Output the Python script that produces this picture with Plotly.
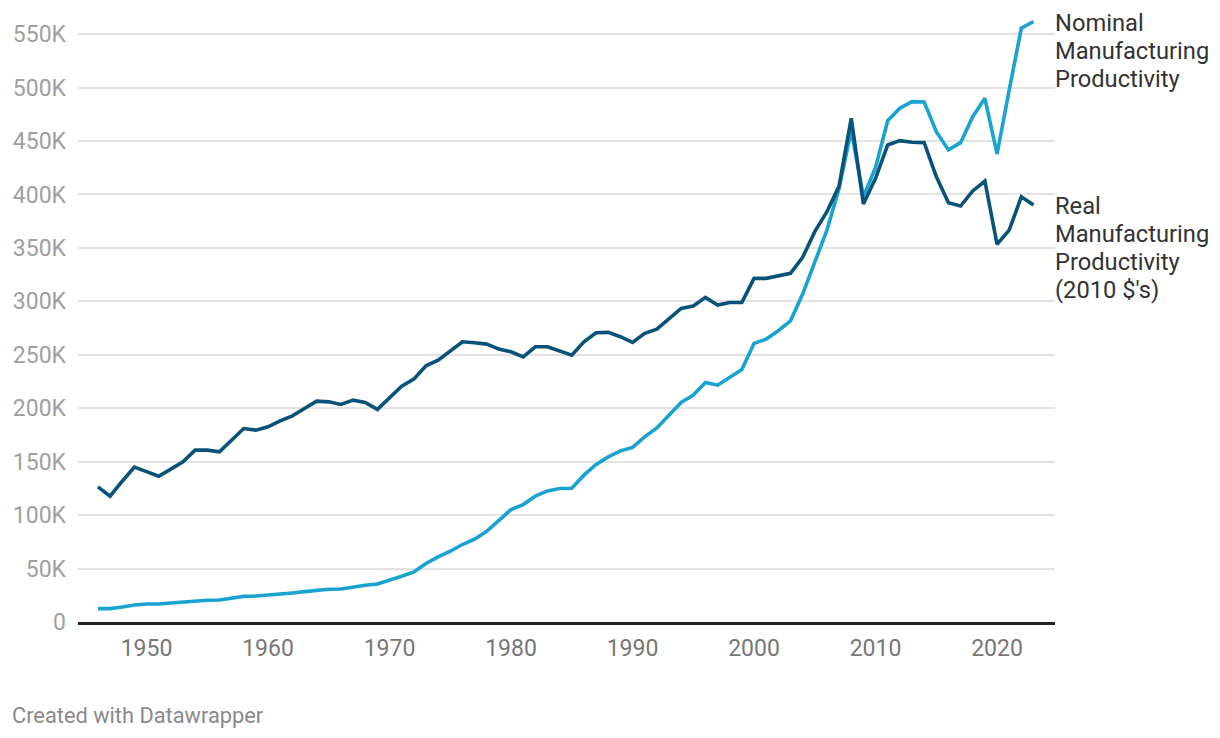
import plotly.graph_objects as go

years = list(range(1946, 2024))

real_productivity = [
    126.4, 117.7, 131.7, 145.0, 140.7, 136.4, 143.0, 149.8, 160.8, 160.8,
    159.2, 170.0, 181.0, 179.5, 182.6, 188.2, 192.9, 199.8, 206.6, 206.0,
    203.5, 207.6, 205.4, 198.9, 210.4, 220.7, 227.2, 239.7, 245.0, 253.7,
    262.2, 261.2, 260.0, 255.3, 252.8, 248.1, 257.5, 257.5, 253.5, 249.7,
    262.2, 270.6, 271.0, 266.9, 261.6, 270.0, 274.0, 284.0, 293.4, 295.6,
    303.7, 296.5, 299.0, 299.0, 321.5, 321.5, 324.0, 326.2, 341.2, 365.2,
    383.9, 408.0, 471.3, 391.1, 415.1, 446.3, 450.4, 448.8, 448.5, 416.7,
    392.3, 389.2, 403.3, 412.6, 353.4, 366.7, 397.9, 390.2,
]
real_productivity = [v * 1000 for v in real_productivity]

nominal_productivity = [
    12.5, 12.5, 14.0, 15.9, 16.9, 16.9, 17.8, 18.7, 20.0, 20.3,
    20.6, 22.5, 24.0, 24.3, 25.0, 26.2, 27.2, 28.4, 29.7, 30.6,
    30.9, 32.8, 34.4, 35.6, 39.0, 42.8, 46.8, 54.7, 60.9, 66.2,
    72.5, 77.4, 84.9, 95.2, 105.2, 109.9, 117.7, 122.7, 124.9, 125.2,
    137.4, 147.4, 154.5, 160.1, 163.3, 173.2, 181.6, 193.5, 205.4, 212.3,
    224.1, 221.6, 228.8, 236.3, 260.7, 264.7, 272.5, 281.8, 306.8, 337.1,
    366.7, 405.8, 460.0, 398.0, 425.4, 469.0, 480.7, 486.9, 486.6, 458.8,
    441.7, 448.5, 472.8, 490.0, 437.9, 497.7, 555.6, 561.8,
]
nominal_productivity = [v * 1000 for v in nominal_productivity]

x_ticks = [1950, 1960, 1970, 1980, 1990, 2000, 2010, 2020]
y_ticks = [0, 50000, 100000, 150000, 200000, 250000, 300000, 350000,
           400000, 450000, 500000, 550000]
y_tick_labels = ["0", "50K", "100K", "150K", "200K", "250K", "300K", "350K",
                 "400K", "450K", "500K", "550K"]

nominal_label = ["Nominal", "Manufacturing", "Productivity"]
real_label = ["Real", "Manufacturing", "Productivity", "(2010 $'s)"]

NOMINAL_COLOR = "#1aa2d0"
REAL_COLOR = "#0a5378"
LABEL_SIZE = 23.7
LINE_GAP = 28

fig = go.Figure()
fig.add_trace(go.Scatter(x=years, y=nominal_productivity, mode="lines",
                         line=dict(color=NOMINAL_COLOR, width=3.6),
                         hoverinfo="skip", showlegend=False))
fig.add_trace(go.Scatter(x=years, y=real_productivity, mode="lines",
                         line=dict(color=REAL_COLOR, width=3.6),
                         hoverinfo="skip", showlegend=False))

for lines, vals in [(nominal_label, nominal_productivity), (real_label, real_productivity)]:
    for i, line_text in enumerate(lines):
        fig.add_annotation(x=1, xref="paper", y=vals[-1], yref="y",
                           text=line_text, showarrow=False, xanchor="left",
                           yanchor="middle", align="left", xshift=-2,
                           yshift=-LINE_GAP * i - 1,
                           font=dict(family="Roboto", size=LABEL_SIZE, color="#333333"))

fig.add_annotation(x=0, xref="paper", y=0, yref="paper", xanchor="left", yanchor="middle",
                   text="Created with Datawrapper", showarrow=False,
                   xshift=-68, yshift=-93,
                   font=dict(family="Roboto", size=21.8, color="#8a8a8a"))

# page body has an 8px margin, so the figure is 8px smaller and shifted
fig.update_layout(
    width=1212, height=730,
    margin=dict(l=70, r=165, t=2, b=116, pad=0),
    paper_bgcolor="white", plot_bgcolor="white",
    font=dict(family="Roboto"),
    xaxis=dict(range=[1944.36, 2024.77], tickvals=x_ticks, showgrid=False,
               showline=True, linecolor="#222222", linewidth=2.5,
               zeroline=False, ticks="", ticklabelstandoff=4,
               tickfont=dict(family="Roboto", size=23, color="#777777")),
    yaxis=dict(range=[0, 572600], tickvals=y_ticks, ticktext=y_tick_labels,
               showgrid=True, gridcolor="#e3e3e3", gridwidth=1.5,
               zeroline=False, ticks="", ticklabelstandoff=11,
               tickfont=dict(family="Roboto", size=23, color="#a0a0a0")),
)

fig.write_html("out.html")
